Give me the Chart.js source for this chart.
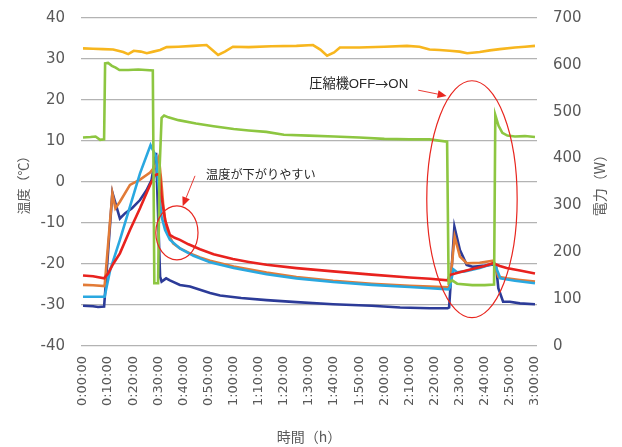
<!DOCTYPE html>
<html><head><meta charset="utf-8">
<script src="https://cdn.jsdelivr.net/npm/chart.js@4.4.0/dist/chart.umd.min.js"></script>
<style>html,body{margin:0;padding:0;background:#fff}</style></head>
<body><canvas id="c" width="622" height="447"></canvas>
<script>
// ---- tick labels ----
const xTickMinutes = [0,10,20,30,40,50,60,70,80,90,100,110,120,130,140,150,160,170,180];
const xTickLabels = ['0:00:00','0:10:00','0:20:00','0:30:00','0:40:00','0:50:00','1:00:00','1:10:00','1:20:00','1:30:00','1:40:00','1:50:00','2:00:00','2:10:00','2:20:00','2:30:00','2:40:00','2:50:00','3:00:00'];

// ---- series (time in minutes, values) ----
const yellowT = [0,4,8,12,16,18,20.2,23,25.4,28,30.7,33.3,38,43.8,49.2,51.5,53.8,56.5,59.7,66,75,85,91.6,94.5,97.2,100,102.3,110,120,129,134,138,142,146,150,153,158,162,166,172,176,180];
const yellowV = [32.6,32.5,32.4,32.3,31.7,31.2,32.0,31.8,31.4,31.8,32.2,32.9,33.0,33.2,33.4,32.2,31.0,31.8,33.0,32.9,33.1,33.2,33.4,32.3,30.8,31.6,32.8,32.8,33.0,33.2,33.0,32.3,32.2,32.0,31.8,31.4,31.7,32.1,32.4,32.8,33.0,33.2];

const greenT = [0,3,5,6.8,8.4,8.8,10,11.5,13,14.5,18,22,25,27.8,28.4,29.9,30.5,31.3,32.3,34,38,45,52,60,66,73,80,90,100,110,120,130,138,145,145.6,147,149,155,160,163.7,164.2,165.5,167,169,172,176,180];
const greenV = [445,446,447,440,441,603,604,598,594,589,589,590,589,588,134,134,380,487,492,488,482,475,469,463,460,457,451,449,447,445,442,441,441,436,135,140,133,130,130,131,493,470,455,449,447,448,446];

const redT = [0,4,8.4,10,12,14.7,18.7,22.7,26.7,28.7,30,30.6,31.3,32.7,34.6,36.5,38.6,42,46.6,52,59.7,66,73.1,85,99.6,115,130,138.2,145.2,146,150,155,160,163.3,166,168.7,174,180];
const redV = [-22.8,-23.0,-23.5,-22.3,-20.0,-17.4,-11.7,-6.4,-0.7,1.7,1.9,1.8,-3.6,-9.3,-12.9,-13.6,-14.1,-15.2,-16.4,-17.6,-18.8,-19.5,-20.2,-21.0,-21.8,-22.6,-23.3,-23.6,-24.0,-22.7,-22.0,-21.2,-20.5,-19.8,-20.5,-21.0,-21.6,-22.3];

const orangeT = [0,4,8.6,11.7,12.9,14.7,18.7,22.7,26.7,29.1,30.2,31.2,32,33.3,35.9,38.6,42.6,46.6,50.6,60,73.1,85,99.6,115,130,138.2,145.6,146.2,148,150.1,152.8,158,163.3,165.4,168.7,174,180];
const orangeV = [-25.1,-25.2,-25.4,-2.8,-6.4,-4.8,-0.7,0.6,2.3,4.1,6.0,0,-6.0,-11.7,-15.0,-16.2,-17.4,-18.4,-19.2,-20.6,-22.1,-23.2,-24.1,-24.8,-25.3,-25.5,-25.7,-24.5,-13.3,-18.2,-19.8,-19.7,-19.2,-23.1,-23.5,-23.9,-24.3];

const cyanT = [0,4,8.6,10.8,14.7,18.7,22.7,26.9,29.1,30,31.3,32.7,34.6,38.6,44,50.6,60,73.1,85,99.6,115,130,138.2,145.6,146.2,147.5,149,152,158,163.8,166.2,172,180];
const cyanV = [-28.0,-28.0,-28.0,-21.5,-14.1,-6.0,2.1,9.0,6.2,-0.3,-8.5,-11.7,-14.1,-16.2,-18.0,-19.6,-21.0,-22.5,-23.5,-24.4,-25.1,-25.6,-25.9,-26.2,-25.5,-21.3,-22.0,-21.8,-21.0,-19.8,-23.5,-24.1,-24.7];

const navyT = [0,4,6,8.4,11.7,14.7,16.8,19.5,22.7,25.3,27.3,29.1,30.7,31.3,33.1,34.6,38.6,42.6,46.6,50.6,54.6,63,73.1,85,99.6,115,126.3,138.2,145.2,145.8,147.9,150.1,152.8,155.3,160,163.5,164.5,165.4,167.3,170,174,180];
const navyV = [-30.2,-30.3,-30.5,-30.4,-2.6,-8.9,-7.6,-6.4,-4.4,-2.0,0.5,7.1,-23.1,-24.3,-23.5,-24.0,-25.1,-25.5,-26.3,-27.1,-27.7,-28.3,-28.8,-29.3,-29.8,-30.2,-30.6,-30.8,-30.8,-30.6,-10.9,-16.6,-20.2,-20.7,-20.4,-20.1,-20.5,-25.9,-29.2,-29.2,-29.6,-29.8];

// ---- annotations (data coordinates) ----
const noteEllipses = [{cx:37.4, cy:-12.4, rx:8.4, ry:6.6},{cx:154.9, cy:-4.2, rx:18.0, ry:28.9}];
const noteLabels = [{text:'温度が下がりやすい', x:49.0, y:1.6, size:12.2},{text:'圧縮機OFF→ON', x:90.1, y:23.8, size:13.2}];
const noteArrows = [{x1:44.6,y1:1.5,x2:39.7,y2:-5.9},{x1:133.5,y1:22.4,x2:144.8,y2:21.0}];

const pts = (T,V) => T.map((t,i)=>({x:t,y:V[i]}));
const ds = (label, T, V, color, axis) => ({label, data: pts(T,V), borderColor: color, backgroundColor: color,
  borderWidth: 2.6, pointRadius: 0, tension: 0, yAxisID: axis, fill: false});

const tickColor = '#595959';
const gridColor = '#b3b3b3';
const clear = 'rgba(0,0,0,0)';

const annotPlugin = {
  id: 'annot',
  afterDatasetsDraw(chart) {
    const {ctx, scales:{x, y}} = chart;
    ctx.save();
    ctx.strokeStyle = '#e8261f'; ctx.fillStyle = '#e8261f'; ctx.lineWidth = 1.2;
    noteEllipses.forEach(e => {
      const cx = x.getPixelForValue(e.cx), cy = y.getPixelForValue(e.cy);
      const rx = Math.abs(x.getPixelForValue(e.cx + e.rx) - cx), ry = Math.abs(y.getPixelForValue(e.cy + e.ry) - cy);
      ctx.beginPath(); ctx.ellipse(cx, cy, rx, ry, 0, 0, Math.PI*2); ctx.stroke();
    });
    ctx.lineWidth = 0.9;
    noteArrows.forEach(a => {
      const x1 = x.getPixelForValue(a.x1), y1 = y.getPixelForValue(a.y1);
      const x2 = x.getPixelForValue(a.x2), y2 = y.getPixelForValue(a.y2);
      const ang = Math.atan2(y2-y1, x2-x1), hl = 9, hw = 4;
      const bx = x2 - hl*Math.cos(ang), by = y2 - hl*Math.sin(ang);
      ctx.beginPath(); ctx.moveTo(x1,y1); ctx.lineTo(bx,by); ctx.stroke();
      ctx.beginPath(); ctx.moveTo(x2,y2);
      ctx.lineTo(bx + hw*Math.sin(ang), by - hw*Math.cos(ang));
      ctx.lineTo(bx - hw*Math.sin(ang), by + hw*Math.cos(ang));
      ctx.closePath(); ctx.fill();
    });
    ctx.fillStyle = '#262626';
    ctx.textAlign = 'left'; ctx.textBaseline = 'middle';
    noteLabels.forEach(l => {
      let px = x.getPixelForValue(l.x); const py = y.getPixelForValue(l.y);
      const parts = l.text.split('→');
      parts.forEach((p, i) => {
        ctx.font = l.size + 'px "Liberation Sans", "Noto Sans CJK JP", sans-serif';
        ctx.fillText(p, px, py); px += ctx.measureText(p).width;
        if (i < parts.length - 1) {
          ctx.font = l.size + 'px "Noto Sans CJK JP", sans-serif';
          ctx.fillText('→', px, py); px += ctx.measureText('→').width;
        }
      });
    });
    // right axis title (reads bottom to top)
    const ca = chart.chartArea;
    ctx.translate(600, (ca.top + ca.bottom)/2);
    ctx.rotate(-Math.PI/2);
    ctx.fillStyle = tickColor; ctx.textAlign = 'center';
    ctx.font = '14px "Noto Sans CJK JP", sans-serif';
    ctx.fillText('電力（W）', 0, 0);
    ctx.restore();
  }
};

new Chart(document.getElementById('c'), {
  type: 'line',
  data: { datasets: [
    ds('電力', greenT, greenV, '#8dc641', 'y1'),
    ds('温度1', redT, redV, '#e8221e', 'y'),
    ds('温度3', cyanT, cyanV, '#2aa8e0', 'y'),
    ds('温度2', orangeT, orangeV, '#e27b37', 'y'),
    ds('温度4', navyT, navyV, '#2c3b98', 'y'),
    ds('外気温', yellowT, yellowV, '#f7b61e', 'y')
  ]},
  options: {
    responsive: false, animation: false,
    layout: { padding: { top: 18, left: 0, right: 0, bottom: 0 } },
    plugins: { legend: { display: false }, tooltip: { enabled: false } },
    scales: {
      x: {
        type: 'linear', min: -0.8, max: 180.8, position: 'bottom',
        afterBuildTicks: s => { s.ticks = xTickMinutes.map(v => ({value: v})); },
        afterFit: s => { s.height = 101; },
        grid: { display: false, drawTicks: false }, border: { display: false },
        ticks: { autoSkip: false, minRotation: 90, maxRotation: 90, padding: 10, color: tickColor,
          font: { family: 'DejaVu Sans', size: 13 },
          callback: (v, i) => xTickLabels[i] },
        title: { display: true, text: '時間（h）', color: tickColor, padding: { top: 0, bottom: 2 },
          font: { family: '"Noto Sans CJK JP"', size: 14 } }
      },
      y: {
        position: 'left', min: -40, max: 40,
        afterFit: s => { s.width = 81; },
        ticks: { stepSize: 10, padding: 0, color: tickColor, font: { family: 'DejaVu Sans', size: 15 } },
        grid: { display: true, color: gridColor, lineWidth: 1.2, drawTicks: true, tickLength: 16, tickColor: clear },
        border: { display: false },
        title: { display: true, text: '温度（℃）', color: tickColor, padding: { top: 15, bottom: 0 },
          font: { family: '"Noto Sans CJK JP"', size: 13 } }
      },
      y1: {
        position: 'right', min: 0, max: 700,
        afterFit: s => { s.width = 85; },
        ticks: { stepSize: 100, padding: 0, color: tickColor, font: { family: 'DejaVu Sans', size: 15 } },
        grid: { display: true, drawOnChartArea: false, color: clear, drawTicks: true, tickLength: 16, tickColor: clear },
        border: { display: false }
      }
    }
  },
  plugins: [annotPlugin]
});
</script>
</body></html>
